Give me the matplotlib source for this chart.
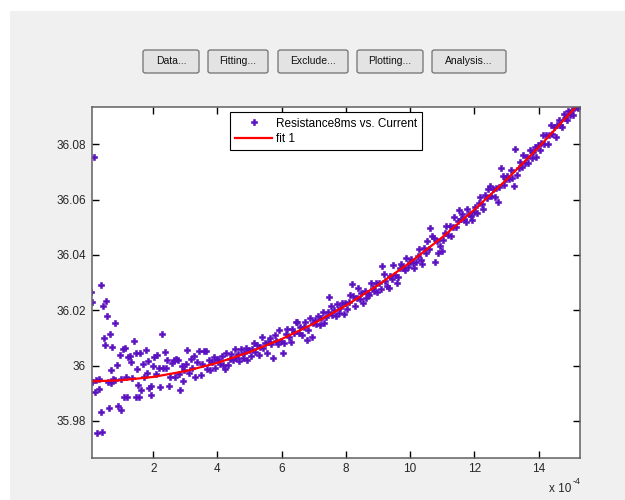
import matplotlib
matplotlib.use("Agg")
import matplotlib.pyplot as plt
from matplotlib.patches import Rectangle, FancyBboxPatch

plt.rcParams["font.family"] = ["Liberation Sans", "DejaVu Sans"]

# current in units of 1e-4 A, resistance in ohm
cur_left = [0.07, 0.08, 0.10, 0.16, 0.19, 0.22, 0.25, 0.31, 0.32, 0.36, 0.38, 0.41,
            0.44, 0.47, 0.51, 0.53, 0.57, 0.60, 0.62, 0.64, 0.67, 0.68, 0.72, 0.73,
            0.81, 0.82, 0.87, 0.90, 0.96, 0.99, 1.00, 1.06, 1.08, 1.12, 1.15, 1.19,
            1.22, 1.28, 1.31, 1.35, 1.39, 1.45, 1.47, 1.50, 1.52, 1.56, 1.60, 1.63,
            1.68, 1.72, 1.76, 1.80, 1.83, 1.87, 1.93, 1.94, 1.98, 2.03, 2.08, 2.12,
            2.17, 2.21, 2.27, 2.30, 2.35, 2.40, 2.44, 2.49, 2.53, 2.58, 2.64, 2.68,
            2.72, 2.77, 2.80, 2.84, 2.88, 2.92, 2.97, 3.02, 3.06, 3.10, 3.16, 3.21,
            3.27, 3.30, 3.35]
res_left = [36.0266, 35.9942, 36.0230, 36.0755, 35.9905, 35.9948, 35.9758, 35.9917,
            35.9950, 36.0293, 35.9833, 35.9759, 36.0217, 36.0098, 36.0075, 36.0234,
            36.0181, 35.9941, 35.9847, 36.0116, 35.9983, 35.9937, 36.0068, 35.9950,
            36.0154, 35.9949, 36.0002, 35.9853, 36.0040, 35.9838, 35.9952, 36.0061,
            35.9887, 36.0062, 35.9957, 35.9887, 36.0030, 36.0033, 36.0012, 35.9955,
            36.0088, 35.9887, 36.0046, 35.9988, 35.9930, 35.9887, 36.0046, 35.9913,
            36.0006, 35.9960, 36.0058, 35.9972, 36.0016, 35.9919, 35.9925, 35.9893,
            36.0000, 36.0030, 35.9968, 36.0040, 35.9990, 35.9923, 36.0115, 35.9990,
            36.0048, 35.9990, 36.0020, 35.9928, 35.9958, 36.0010, 36.0022, 35.9958,
            36.0025, 36.0020, 35.9970, 35.9913, 36.0000, 35.9943, 35.9985, 36.0005,
            36.0055, 35.9975, 36.0024, 35.9990, 36.0036, 35.9957, 36.0012]

cur_right = [
    3.43, 3.48, 3.53, 3.58, 3.63, 3.68, 3.73, 3.78, 3.83, 3.88, 3.93, 3.98,
    4.03, 4.08, 4.13, 4.18, 4.23, 4.28, 4.33, 4.38, 4.43, 4.48, 4.53, 4.58, 4.63, 4.68, 4.73, 4.78, 4.83, 4.88, 4.93, 4.98,
    5.03, 5.08, 5.13, 5.18, 5.23, 5.28, 5.33, 5.38, 5.43, 5.48, 5.53, 5.58, 5.63, 5.68, 5.73, 5.78, 5.83, 5.88, 5.93, 5.98,
    6.03, 6.08, 6.13, 6.18, 6.23, 6.28, 6.33, 6.38, 6.43, 6.48, 6.53, 6.58, 6.63, 6.68, 6.73, 6.78, 6.83, 6.88, 6.93, 6.98,
    7.03, 7.08, 7.13, 7.18, 7.23, 7.28, 7.33, 7.38, 7.43, 7.48, 7.53, 7.58, 7.63, 7.68, 7.73, 7.78, 7.83, 7.88, 7.93, 7.98,
    8.03, 8.08, 8.13, 8.18, 8.23, 8.28, 8.33, 8.38, 8.43, 8.48, 8.53, 8.58, 8.63, 8.68, 8.73, 8.78, 8.83, 8.88, 8.93, 8.98,
    9.03, 9.08, 9.13, 9.18, 9.23, 9.28, 9.33, 9.38, 9.43, 9.48, 9.53, 9.58, 9.63, 9.68, 9.73, 9.78, 9.83, 9.88, 9.93, 9.98,
    10.03, 10.08, 10.13, 10.18, 10.23, 10.28, 10.33, 10.38, 10.43, 10.48, 10.53, 10.58, 10.63, 10.68, 10.73, 10.78, 10.83, 10.88, 10.93, 10.98,
    11.03, 11.08, 11.13, 11.18, 11.23, 11.28, 11.33, 11.38, 11.43, 11.48, 11.53, 11.58, 11.63, 11.68, 11.73, 11.78, 11.83, 11.88, 11.93, 11.98,
    12.03, 12.08, 12.13, 12.18, 12.23, 12.28, 12.33, 12.38, 12.43, 12.48, 12.53, 12.58, 12.63, 12.68, 12.73, 12.78, 12.83, 12.88, 12.93, 12.98,
    13.03, 13.08, 13.13, 13.18, 13.23, 13.28, 13.33, 13.38, 13.43, 13.48, 13.53, 13.58, 13.63, 13.68, 13.73, 13.78, 13.83, 13.88, 13.93, 13.98,
    14.03, 14.08, 14.13, 14.18, 14.23, 14.28, 14.33, 14.38, 14.43, 14.48, 14.53, 14.58, 14.63, 14.68, 14.73, 14.78, 14.83, 14.88, 14.93, 14.98,
    15.03, 15.08, 15.13, 15.18, 15.23, 15.28,
]
res_right = [
    36.0053, 35.9966, 36.0006, 36.0052, 36.0051, 35.9988, 36.0020, 35.9983, 36.0013, 36.0031, 35.9993, 36.0021,
    36.0023, 36.0005, 36.0035, 36.0002, 35.9987, 36.0046, 36.0003, 36.0025, 36.0042, 36.0019,
    36.0060, 36.0027, 36.0042, 36.0018, 36.0060, 36.0028, 36.0045, 36.0062, 36.0021, 36.0058,
    36.0036, 36.0059, 36.0083, 36.0048, 36.0076, 36.0040, 36.0068, 36.0102, 36.0063, 36.0083,
    36.0044, 36.0085, 36.0098, 36.0078, 36.0028, 36.0109, 36.0089, 36.0079, 36.0127, 36.0088,
    36.0047, 36.0081, 36.0114, 36.0132, 36.0105, 36.0084, 36.0131, 36.0119, 36.0157, 36.0156,
    36.0117, 36.0141, 36.0110, 36.0140, 36.0156, 36.0094, 36.0127, 36.0172, 36.0103, 36.0155,
    36.0166, 36.0149, 36.0180, 36.0148, 36.0172, 36.0195, 36.0153, 36.0176, 36.0195, 36.0248,
    36.0216, 36.0184, 36.0201, 36.0178, 36.0221, 36.0190, 36.0209, 36.0227, 36.0187, 36.0225,
    36.0205, 36.0229, 36.0254, 36.0294, 36.0250, 36.0215, 36.0245, 36.0280, 36.0242, 36.0264,
    36.0226, 36.0269, 36.0243, 36.0264, 36.0255, 36.0298, 36.0279, 36.0271, 36.0299, 36.0267,
    36.0300, 36.0278, 36.0361, 36.0331, 36.0305, 36.0287, 36.0282, 36.0324, 36.0313, 36.0363,
    36.0326, 36.0298, 36.0321, 36.0352, 36.0369, 36.0353, 36.0344, 36.0390, 36.0357, 36.0375,
    36.0387, 36.0372, 36.0354, 36.0374, 36.0398, 36.0423, 36.0383, 36.0367, 36.0427, 36.0406,
    36.0451, 36.0420, 36.0496, 36.0470, 36.0461, 36.0374, 36.0451, 36.0407, 36.0432, 36.0416,
    36.0453, 36.0478, 36.0505, 36.0473, 36.0503, 36.0470, 36.0501, 36.0537, 36.0501, 36.0524,
    36.0564, 36.0531, 36.0547, 36.0529, 36.0521, 36.0566, 36.0548, 36.0541, 36.0527, 36.0555,
    36.0574, 36.0553, 36.0588, 36.0609, 36.0584, 36.0567, 36.0616, 36.0606, 36.0640, 36.0648,
    36.0613, 36.0639, 36.0611, 36.0643, 36.0592, 36.0646, 36.0713, 36.0686, 36.0654, 36.0673,
    36.0687, 36.0673, 36.0707, 36.0677, 36.0651, 36.0784, 36.0690, 36.0716, 36.0737, 36.0718,
    36.0763, 36.0734, 36.0753, 36.0733, 36.0779, 36.0751, 36.0772, 36.0792, 36.0755, 36.0796,
    36.0778, 36.0804, 36.0833, 36.0802, 36.0833, 36.0802, 36.0834, 36.0871, 36.0837, 36.0861,
    36.0825, 36.0870, 36.0888, 36.0871, 36.0864, 36.0911, 36.0894, 36.0888, 36.0920, 36.0905,
    36.0925, 36.0906, 36.0942, 36.0934, 36.0932, 36.0945,
]

# fitted curve "fit 1"
fit_x = [0.08, 1, 2, 3, 4, 5, 6, 7, 8, 9, 10, 11, 12, 13, 14, 15, 15.3]
fit_y = [35.9943, 35.9947, 35.9959, 35.9980, 36.0010, 36.0049, 36.0096, 36.0152,
         36.0217, 36.0291, 36.0373, 36.0464, 36.0564, 36.0672, 36.0789, 36.0915, 36.0954]

buttons = ["Data...", "Fitting...", "Exclude...", "Plotting...", "Analysis..."]
button_px = [(143, 199), (208, 268), (278, 348), (357, 423), (432, 506)]

xticks = [2, 4, 6, 8, 10, 12, 14]
yticks = [35.98, 36.0, 36.02, 36.04, 36.06, 36.08]
ylabels = ["35.98", "36", "36.02", "36.04", "36.06", "36.08"]

W, H = 625, 500
fig = plt.figure(figsize=(6.25, 5), dpi=100, facecolor="white")

# grey window panel behind everything
fig.patches.append(Rectangle((10 / W, 0), 1, 1 - 11 / H, transform=fig.transFigure,
                             facecolor="#f0f0f0", edgecolor="none", zorder=-10))

for lab, (x0, x1) in zip(buttons, button_px):
    y0, y1 = 50, 73
    b = FancyBboxPatch((x0 / W, 1 - y1 / H), (x1 - x0) / W, (y1 - y0) / H,
                       boxstyle="round,pad=0,rounding_size=0.004",
                       transform=fig.transFigure, facecolor="#e3e3e3",
                       edgecolor="#707070", linewidth=0.9, zorder=-5)
    fig.patches.append(b)
    fig.text((x0 + x1) / 2 / W, 1 - (y0 + y1) / 2 / H, lab, ha="center", va="center",
             fontsize=7.5, color="#111111")

ax = fig.add_axes([91.7 / W, 1 - 457.7 / H, (580 - 91.7) / W, (457.7 - 107) / H])
ax.set_facecolor("white")

cur = cur_left + cur_right
res = res_left + res_right
ax.plot(cur, res, linestyle="none", marker="P", markersize=4.2, color="#5a0fc0",
        markeredgewidth=0.4, label="Resistance8ms vs. Current")
ax.plot(fit_x, fit_y, color="#ff0000", linewidth=1.6, label="fit 1")

ax.set_xlim(0.082, 15.29)
ax.set_ylim(35.9667, 36.0935)
ax.set_xticks(xticks)
ax.set_xticklabels([str(t) for t in xticks])
ax.set_yticks(yticks)
ax.set_yticklabels(ylabels)
ax.tick_params(direction="in", length=5, width=1, top=True, right=True,
               labelsize=8.5, labelcolor="#262626", color="#000000", pad=4)
for s in ax.spines.values():
    s.set_color("#606060")
    s.set_linewidth(1.1)

leg = ax.legend(loc="upper center", bbox_to_anchor=(0.480, 0.985), fontsize=8.5,
                frameon=True, fancybox=False, edgecolor="#000000", framealpha=1,
                handlelength=3.1, handletextpad=0.3, borderpad=0.45, labelspacing=0.3,
                borderaxespad=0)
leg.get_frame().set_linewidth(0.8)

fig.text(549 / W, 1 - 489 / H, "x 10", fontsize=8.5, color="#262626",
         ha="left", va="center")
fig.text(573 / W, 1 - 482 / H, "-4", fontsize=6.5, color="#262626",
         ha="left", va="center")

fig.savefig("out.png", dpi=100, facecolor=fig.get_facecolor())
